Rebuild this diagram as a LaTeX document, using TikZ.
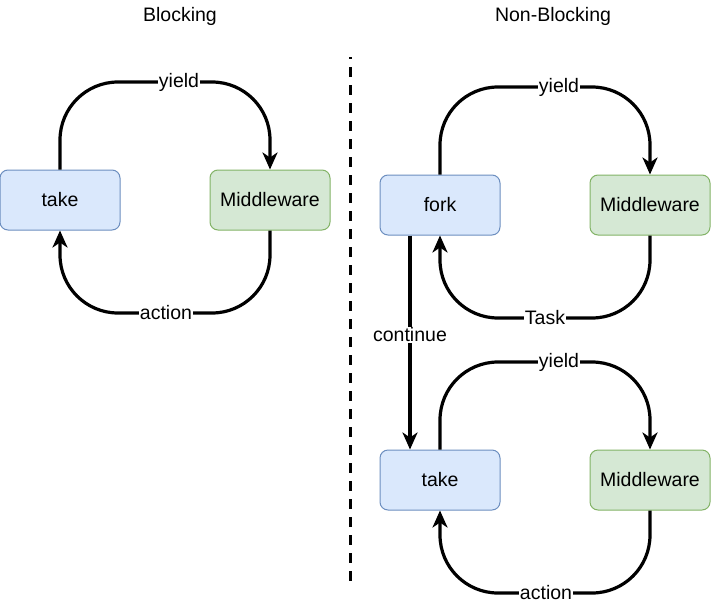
\documentclass[tikz,border=0pt]{standalone}
\usepackage{fontspec}
\setmainfont{Liberation Sans}
\usetikzlibrary{arrows.meta}
\begin{document}
\begin{tikzpicture}[x=1pt,y=-1pt,
  font=\fontsize{19.5}{22}\selectfont,
  box/.style={draw, rounded corners=8pt, minimum width=120pt, minimum height=60pt, line width=1pt, inner sep=0pt},
  bluebox/.style={box, fill=blueF, draw=blueD},
  greenbox/.style={box, fill=greenF, draw=greenD},
  conn/.style={line width=3.2pt, -{Stealth[length=17pt,width=15pt,inset=5pt]}},
  loop/.style={conn, rounded corners=58pt},
  lbl/.style={fill=white, inner sep=1pt},
  title/.style={inner sep=0pt}]
\definecolor{blueF}{HTML}{DAE8FC}
\definecolor{blueD}{HTML}{6C8EBF}
\definecolor{greenF}{HTML}{D5E8D4}
\definecolor{greenD}{HTML}{82B366}
\useasboundingbox (0,0) rectangle (711,605);

\node[title] (tb) at (180,16) {Blocking};
\node[title] (tnb) at (553,16) {Non-Blocking};

\coordinate (dtop) at (350.5,57);
\coordinate (dbot) at (350.5,581);
\draw[line width=3pt, dash pattern=on 10pt off 8pt, dash phase=8pt] (dtop) -- (dbot);

% Blocking
\node[bluebox] (take1) at (60,200) {take};
\node[greenbox] (mw1) at (270,200) {Middleware};
\coordinate (y1) at (179,82);
\coordinate (a1) at (166,313);
\draw[loop] (take1.north) -- (take1.north |- y1) -- (mw1.north |- y1) -- (mw1.north);
\draw[loop] (mw1.south) -- (mw1.south |- a1) -- (take1.south |- a1) -- (take1.south);
\node[lbl] (y1l) at (y1) {yield};
\node[lbl] (a1l) at (a1) {action};

% Non-blocking top
\node[bluebox] (fork) at (440,205) {fork};
\node[greenbox] (mw2) at (650,205) {Middleware};
\coordinate (y2) at (559,87);
\coordinate (t2) at (545,318);
\draw[loop] (fork.north) -- (fork.north |- y2) -- (mw2.north |- y2) -- (mw2.north);
\draw[loop] (mw2.south) -- (mw2.south |- t2) -- (fork.south |- t2) -- (fork.south);
\node[lbl] (y2l) at (y2) {yield};
\node[lbl] (t2l) at (t2) {Task};

% Non-blocking bottom
\node[bluebox] (take2) at (440,480) {take};
\node[greenbox] (mw3) at (650,480) {Middleware};
\coordinate (y3) at (559,362);
\coordinate (a3) at (546,593);
\draw[loop] (take2.north) -- (take2.north |- y3) -- (mw3.north |- y3) -- (mw3.north);
\draw[loop] (mw3.south) -- (mw3.south |- a3) -- (take2.south |- a3) -- (take2.south);
\node[lbl] (y3l) at (y3) {yield};
\node[lbl] (a3l) at (a3) {action};

% continue
\draw[conn] ([xshift=-30pt]fork.south) -- node[lbl, pos=0.465] (cl) {continue} ([xshift=-30pt]take2.north);
\end{tikzpicture}
\end{document}
